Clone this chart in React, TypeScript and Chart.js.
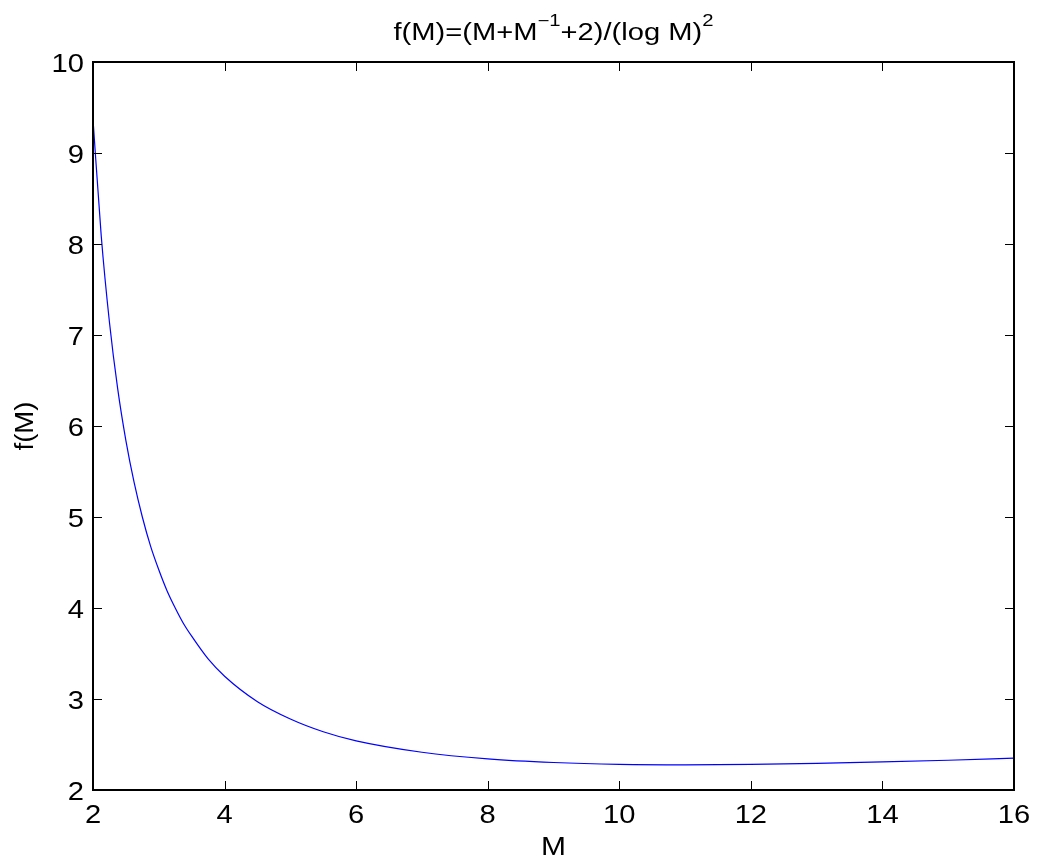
import React, { useEffect, useRef } from "react";
import { Chart, registerables } from "chart.js";

Chart.register(...registerables);

const mValues = [2, 2.125, 2.25, 2.375, 2.5, 2.625, 2.75, 2.875, 3, 3.125, 3.25, 3.375, 3.5, 3.75, 4, 4.5, 5, 5.5, 6, 7, 8, 9, 10, 11, 12, 13, 14, 15, 16];
const fValues = [9.37, 8.09, 7.14, 6.41, 5.84, 5.38, 5.0, 4.68, 4.42, 4.19, 4.0, 3.83, 3.69, 3.44, 3.25, 2.97, 2.78, 2.64, 2.54, 2.415, 2.342, 2.302, 2.282, 2.277, 2.281, 2.292, 2.308, 2.327, 2.35];

const xTickValues = [2, 4, 6, 8, 10, 12, 14, 16];
const yTickValues = [2, 3, 4, 5, 6, 7, 8, 9, 10];

const titleParts: { text: string; sup: boolean }[] = [
  { text: "f(M)=(M+M", sup: false },
  { text: "\u22121", sup: true },
  { text: "+2)/(log M)", sup: false },
  { text: "2", sup: true },
];
const xTitle = "M";
const yTitle = "f(M)";

const FONT = '"Liberation Sans", Arial, Helvetica, sans-serif';

function drawText(ctx: CanvasRenderingContext2D, text: string, x: number, y: number, font: string, sx: number, align: CanvasTextAlign, rot = 0) {
  ctx.save();
  ctx.font = font;
  ctx.translate(x, y);
  if (rot) ctx.rotate(rot);
  ctx.scale(sx, 1);
  ctx.textAlign = align;
  ctx.textBaseline = "alphabetic";
  ctx.fillStyle = "#000";
  ctx.fillText(text, 0, 0);
  ctx.restore();
}

const framePlugin = {
  id: "matlabFrame",
  afterDraw(chart: any) {
    const { ctx, chartArea, scales } = chart;
    const { left, right, top, bottom } = chartArea;
    ctx.save();
    ctx.strokeStyle = "#000";
    ctx.lineWidth = 1;
    const tl = 9;
    ctx.beginPath();
    xTickValues.forEach((v) => {
      const px = Math.round(scales.x.getPixelForValue(v)) + 0.5;
      ctx.moveTo(px, bottom);
      ctx.lineTo(px, bottom - tl);
      ctx.moveTo(px, top);
      ctx.lineTo(px, top + tl);
    });
    yTickValues.forEach((v) => {
      const py = Math.round(scales.y.getPixelForValue(v)) + 0.5;
      ctx.moveTo(left, py);
      ctx.lineTo(left + tl, py);
      ctx.moveTo(right, py);
      ctx.lineTo(right - tl, py);
    });
    ctx.stroke();
    ctx.lineWidth = 2;
    ctx.strokeRect(left, top, right - left, bottom - top);
    ctx.restore();

    const tickFont = `26px ${FONT}`;
    const tickScale = 1.12;
    scales.x.ticks.forEach((t: any) => {
      const px = scales.x.getPixelForValue(t.value);
      drawText(ctx, String(t.value), px, bottom + 33, tickFont, tickScale, "center");
    });
    scales.y.ticks.forEach((t: any) => {
      const py = scales.y.getPixelForValue(t.value);
      drawText(ctx, String(t.value), left - 9, py + 9.5, tickFont, tickScale, "right");
    });

    // axis titles
    drawText(ctx, xTitle, (left + right) / 2, 855, `25px ${FONT}`, 1.2, "center");
    drawText(ctx, yTitle, 33, (top + bottom) / 2, `25px ${FONT}`, 1.1, "center", -Math.PI / 2);

    // title with superscripts
    const mainFont = `23px ${FONT}`;
    const supFont = `16px ${FONT}`;
    ctx.save();
    let total = 0;
    const widths = titleParts.map((p) => {
      ctx.font = p.sup ? supFont : mainFont;
      const w = ctx.measureText(p.text).width;
      total += w;
      return w;
    });
    ctx.restore();
    const targetWidth = 320;
    const s = targetWidth / total;
    let x = (left + right) / 2 - targetWidth / 2;
    const baseY = 40;
    titleParts.forEach((p, i) => {
      drawText(ctx, p.text, x, p.sup ? baseY - 14 : baseY, p.sup ? supFont : mainFont, s, "left");
      x += widths[i] * s;
    });
  },
};

export default function App() {
  const ref = useRef<HTMLCanvasElement>(null);
  useEffect(() => {
    if (!ref.current) return;
    const chart = new Chart(ref.current, {
      type: "line",
      data: {
        datasets: [
          {
            data: mValues.map((m, i) => ({ x: m, y: fValues[i] })),
            borderColor: "#0000ff",
            borderWidth: 1.2,
            pointRadius: 0,
            fill: false,
            cubicInterpolationMode: "monotone",
          },
        ],
      },
      options: {
        animation: false,
        responsive: false,
        layout: { padding: { left: 0, top: 62, right: 24, bottom: 0 } },
        plugins: { legend: { display: false }, title: { display: false }, tooltip: { enabled: false } },
        scales: {
          x: {
            type: "linear",
            min: 2,
            max: 16,
            grid: { display: false, drawTicks: false },
            border: { display: false },
            ticks: { stepSize: 2, display: false },
            title: { display: false, text: xTitle },
            afterFit: (sc: any) => { sc.height = 68; },
          },
          y: {
            type: "linear",
            min: 2,
            max: 10,
            grid: { display: false, drawTicks: false },
            border: { display: false },
            ticks: { stepSize: 1, display: false },
            title: { display: false, text: yTitle },
            afterFit: (sc: any) => { sc.width = 93; },
          },
        },
      },
      plugins: [framePlugin],
    } as any);
    return () => chart.destroy();
  }, []);
  return (
    <div style={{ position: "absolute", left: 0, top: 0, width: 1038, height: 858, background: "#fff" }}>
      <canvas ref={ref} width={1038} height={858} />
    </div>
  );
}
